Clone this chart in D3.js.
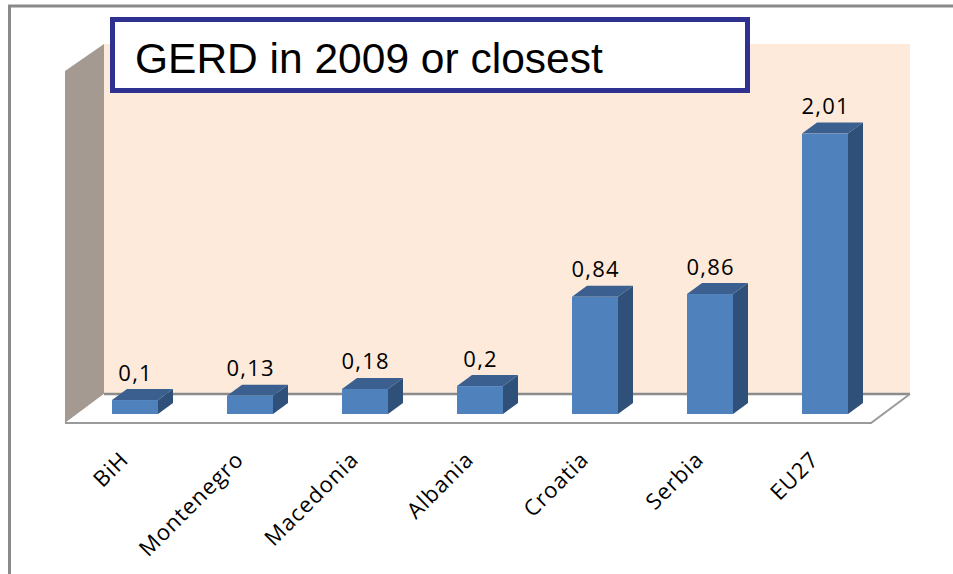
<!DOCTYPE html>
<html>
<head>
<meta charset="utf-8">
<script src="https://cdnjs.cloudflare.com/ajax/libs/d3/7.8.5/d3.min.js"></script>
<style>
  body { margin: 0; background: #fff; }
  svg { display: block; }
</style>
</head>
<body>
<div id="chart"></div>
<script>
// Data
var countries = ["BiH", "Montenegro", "Macedonia", "Albania", "Croatia", "Serbia", "EU27"];
var gerd = [0.1, 0.13, 0.18, 0.2, 0.84, 0.86, 2.01];
var valueLabels = ["0,1", "0,13", "0,18", "0,2", "0,84", "0,86", "2,01"];
var titleText = "GERD in 2009 or closest";

var width = 953, height = 574;

var svg = d3.select("#chart").append("svg")
    .attr("width", width)
    .attr("height", height);

// Layout constants
var floorY = 414;          // bar base (front)
var depthX = 15, depthY = -11;
var wall = {left: 65, right: 104, top: 44, backBottom: 394, frontBottom: 423, floorRight: 871, backRight: 910};

// Scales
var xScale = d3.scaleBand()
    .domain(countries)
    .range([77.5, 882.5])
    .paddingInner(0.6)
    .paddingOuter(0.3);
var yScale = d3.scaleLinear()
    .domain([0, 2.5])
    .range([floorY, floorY - 2.5 * 139.5]);

// Outer frame
svg.append("rect")
    .attr("x", 9.5).attr("y", 6)
    .attr("width", 1000).attr("height", 1000)
    .attr("fill", "none")
    .attr("stroke", "#8a8a8a")
    .attr("stroke-width", 3);

// Back wall
svg.append("rect")
    .attr("x", wall.right).attr("y", wall.top)
    .attr("width", wall.backRight - wall.right)
    .attr("height", wall.backBottom - wall.top)
    .attr("fill", "#fdeadb");

// Left wall
svg.append("polygon")
    .attr("points", [[wall.left, 71], [wall.right, wall.top], [wall.right, wall.backBottom], [wall.left, wall.frontBottom]].join(" "))
    .attr("fill", "#a49a91");

// Floor
svg.append("polygon")
    .attr("points", [[wall.left, wall.frontBottom], [wall.right, wall.backBottom], [wall.backRight, wall.backBottom], [wall.floorRight, wall.frontBottom]].join(" "))
    .attr("fill", "#ffffff");

svg.append("line")
    .attr("x1", wall.right).attr("y1", wall.backBottom)
    .attr("x2", wall.backRight).attr("y2", wall.backBottom)
    .attr("stroke", "#8c8c8c").attr("stroke-width", 2.5);
svg.append("polyline")
    .attr("points", [[wall.left, wall.frontBottom], [wall.floorRight, wall.frontBottom], [wall.backRight, wall.backBottom]].join(" "))
    .attr("fill", "none")
    .attr("stroke", "#9a9a9a").attr("stroke-width", 2);

// Bars
var bw = xScale.bandwidth();
var bars = svg.selectAll(".bar")
    .data(gerd)
    .enter()
    .append("g")
    .attr("class", "bar");

bars.append("polygon")
    .attr("points", (d, i) => {
        var x = xScale(countries[i]), yt = yScale(d);
        return [[x + bw, yt], [x + bw + depthX, yt + depthY], [x + bw + depthX, floorY + depthY], [x + bw, floorY]].join(" ");
    })
    .attr("fill", "#2f5079");

bars.append("polygon")
    .attr("points", (d, i) => {
        var x = xScale(countries[i]), yt = yScale(d);
        return [[x, yt], [x + depthX, yt + depthY], [x + bw + depthX, yt + depthY], [x + bw, yt]].join(" ");
    })
    .attr("fill", "#3b6090");

bars.append("rect")
    .attr("x", (d, i) => xScale(countries[i]))
    .attr("y", d => yScale(d))
    .attr("width", bw)
    .attr("height", d => floorY - yScale(d))
    .attr("fill", "#4f81bd");

// Value labels
bars.append("text")
    .attr("x", (d, i) => xScale(countries[i]) + bw / 2 + 0.6)
    .attr("y", d => yScale(d) - 19.5)
    .attr("text-anchor", "middle")
    .style("font-family", "'Open Sans', sans-serif")
    .style("font-size", "22px")
    .style("letter-spacing", "1.2px")
    .style("fill", "#000")
    .text((d, i) => valueLabels[i]);

// Category labels
svg.selectAll(".cat")
    .data(countries)
    .enter()
    .append("text")
    .attr("class", "cat")
    .attr("text-anchor", "end")
    .attr("transform", d => "translate(" + [xScale(d) + bw / 2 - 5, 461] + ")rotate(-45)")
    .style("font-family", "'Open Sans', sans-serif")
    .style("font-size", "22px")
    .style("letter-spacing", "1px")
    .style("fill", "#000")
    .text(d => d);

// Title box
svg.append("rect")
    .attr("x", 112.5).attr("y", 19.5)
    .attr("width", 635).attr("height", 71)
    .attr("fill", "#fff")
    .attr("stroke", "#2e3190")
    .attr("stroke-width", 5);

svg.append("text")
    .attr("x", 135).attr("y", 73)
    .style("font-family", "'Liberation Sans', Arial, sans-serif")
    .style("font-size", "42.5px")
    .style("fill", "#000")
    .text(titleText);
</script>
</body>
</html>
